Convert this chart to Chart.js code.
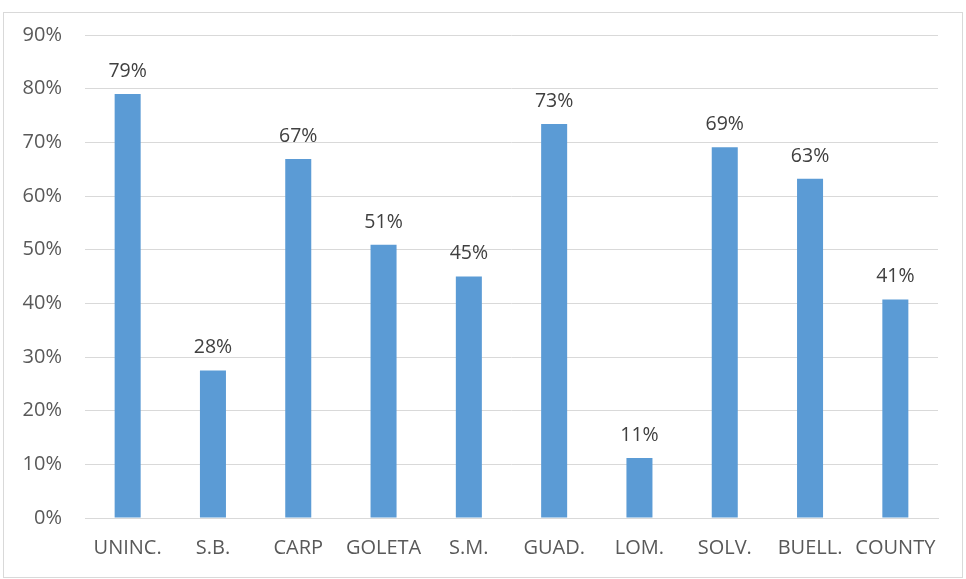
<!DOCTYPE html>
<html>
<head>
<meta charset="utf-8">
<script src="https://cdn.jsdelivr.net/npm/chart.js@4/dist/chart.umd.min.js"></script>
<style>
  html, body { margin: 0; padding: 0; background: #fff; }
  #wrap { position: absolute; left: 0; top: 0; width: 966px; height: 579px; }
</style>
</head>
<body>
<div id="wrap"><canvas id="chart"></canvas></div>
<script>
// categories along the x axis
const areas = ["UNINC.", "S.B.", "CARP", "GOLETA", "S.M.", "GUAD.", "LOM.", "SOLV.", "BUELL.", "COUNTY"];
// bar heights (percent)
const shares = [79, 27.5, 66.9, 50.9, 45, 73.4, 11.2, 69.1, 63.2, 40.7];
// y axis range
const yMin = 0;
const yMax = 90;
const yStep = 10;

const FONT = "'Open Sans', 'Liberation Sans', sans-serif";

// draws the value above each bar, like the excel data labels
const barLabels = {
  id: "barLabels",
  afterDatasetsDraw(chart) {
    const ctx = chart.ctx;
    const meta = chart.getDatasetMeta(0);
    ctx.save();
    ctx.font = "19.5px " + FONT;
    ctx.fillStyle = "#404040";
    ctx.textAlign = "center";
    ctx.textBaseline = "bottom";
    meta.data.forEach(function (bar, i) {
      ctx.fillText(Math.round(shares[i]) + "%", bar.x, bar.y - 13);
    });
    ctx.restore();
  },
};

// thin grey frame round the whole chart
const frame = {
  id: "frame",
  beforeDraw(chart) {
    const ctx = chart.ctx;
    ctx.save();
    ctx.strokeStyle = "#d9d9d9";
    ctx.lineWidth = 1;
    ctx.strokeRect(3.5, 12.5, 959, 565);
    ctx.restore();
  },
};

new Chart(document.getElementById("chart"), {
  type: "bar",
  data: {
    labels: areas,
    datasets: [
      {
        data: shares,
        backgroundColor: "#5B9BD5",
        barPercentage: 0.305,
        categoryPercentage: 1,
      },
    ],
  },
  options: {
    responsive: true,
    maintainAspectRatio: false,
    animation: false,
    layout: { padding: { left: 0, right: 28, top: 34, bottom: 0 } },
    plugins: {
      legend: { display: false },
      tooltip: { enabled: false },
    },
    scales: {
      x: {
        grid: { display: false, drawTicks: false },
        border: { color: "#d9d9d9", width: 1 },
        ticks: {
          color: "#595959",
          font: { family: FONT, size: 20 },
          padding: 18,
          maxRotation: 0,
          autoSkip: false,
        },
        afterFit(scale) {
          scale.height = 61;
        },
      },
      y: {
        min: yMin,
        max: yMax,
        grid: { color: "#d9d9d9", drawTicks: false },
        border: { display: false },
        ticks: {
          stepSize: yStep,
          color: "#595959",
          font: { family: FONT, size: 20 },
          padding: 23,
          callback: function (value) {
            return value + "%";
          },
        },
        afterFit(scale) {
          scale.width = 85;
        },
      },
    },
  },
  plugins: [frame, barLabels],
});
</script>
</body>
</html>
